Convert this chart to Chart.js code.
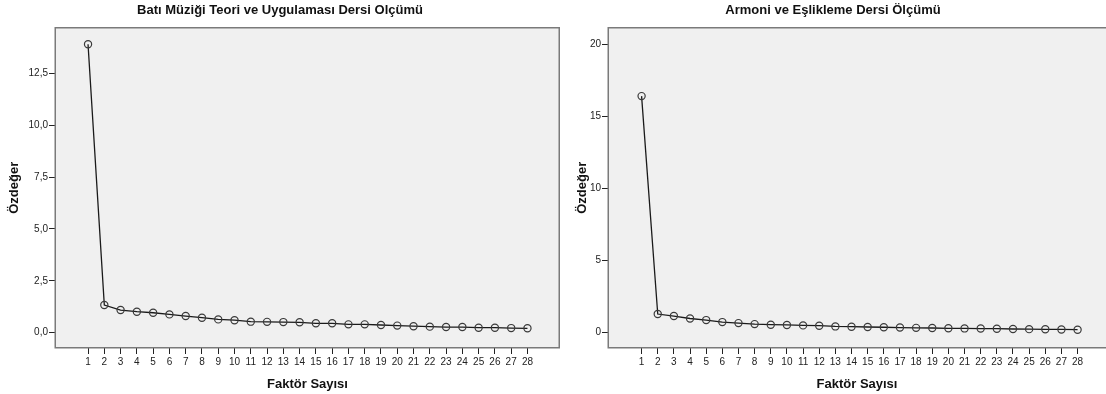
<!DOCTYPE html>
<html>
<head>
<meta charset="utf-8">
<script src="https://cdn.jsdelivr.net/npm/chart.js@4.4.1/dist/chart.umd.min.js"></script>
<style>
  html, body { margin: 0; padding: 0; background: #ffffff; overflow: hidden; width: 1106px; height: 394px; }
  #c1 { position: absolute; left: 0; top: 0; }
  #c2 { position: absolute; left: 560px; top: 0; }
</style>
</head>
<body>
<canvas id="c1" width="560" height="394"></canvas>
<canvas id="c2" width="546" height="394"></canvas>
<script>
// ---- data ----
const factors = [1,2,3,4,5,6,7,8,9,10,11,12,13,14,15,16,17,18,19,20,21,22,23,24,25,26,27,28];
const batiValues = [13.91, 1.33, 1.09, 1.01, 0.96, 0.88, 0.80, 0.72, 0.64, 0.60, 0.53, 0.52, 0.51, 0.50,
                    0.45, 0.45, 0.40, 0.40, 0.37, 0.34, 0.31, 0.29, 0.27, 0.27, 0.24, 0.24, 0.22, 0.21];
const armoniValues = [16.39, 1.25, 1.11, 0.94, 0.83, 0.69, 0.62, 0.55, 0.51, 0.49, 0.46, 0.44, 0.39, 0.37,
                      0.35, 0.33, 0.31, 0.29, 0.28, 0.26, 0.25, 0.24, 0.23, 0.21, 0.20, 0.19, 0.18, 0.16];
const batiYTicks = [0, 2.5, 5, 7.5, 10, 12.5];
const armoniYTicks = [0, 5, 10, 15, 20];
const batiTitle = 'Batı Müziği Teori ve Uygulaması Dersi Olçümü';
const armoniTitle = 'Armoni ve Eşlikleme Dersi Ölçümü';
const xTitle = 'Faktör Sayısı';
const yTitle = 'Özdeğer';

const FONT = '"Liberation Sans", Arial, sans-serif';

const framePlugin = {
  id: 'frame',
  beforeDraw(chart) {
    const {ctx, chartArea: a} = chart;
    ctx.save();
    ctx.fillStyle = '#f0f0f0';
    ctx.fillRect(a.left, a.top, a.right - a.left, a.bottom - a.top);
    ctx.restore();
  },
  afterDraw(chart, args, opts) {
    const {ctx, chartArea: a} = chart;
    ctx.save();
    ctx.strokeStyle = '#7a7a7a';
    ctx.lineWidth = 1.5;
    const l = a.left + 0.25, t = a.top + 0.25, r = a.right - 0.75, b = a.bottom - 0.25;
    ctx.beginPath();
    if (opts.openRight) {
      ctx.moveTo(r + 2, t); ctx.lineTo(l, t); ctx.lineTo(l, b); ctx.lineTo(r + 2, b);
    } else {
      ctx.moveTo(l, t); ctx.lineTo(r, t); ctx.lineTo(r, b); ctx.lineTo(l, b); ctx.closePath();
    }
    ctx.stroke();
    ctx.restore();
  }
};

function makeChart(id, values, yTicks, title, yMin, yMax, xMin, xMax, yWidth, yTitlePad, fmt, openRight) {
  const pts = factors.map((f, i) => ({x: f, y: values[i]}));
  return new Chart(document.getElementById(id), {
    type: 'line',
    data: { datasets: [{
      data: pts,
      borderColor: '#1a1a1a',
      borderWidth: 1.3,
      pointRadius: 3.6,
      pointBorderWidth: 1.2,
      pointBorderColor: '#3a3a3a',
      pointBackgroundColor: 'rgba(0,0,0,0)',
      tension: 0
    }]},
    options: {
      responsive: false,
      animation: false,
      devicePixelRatio: 1,
      layout: { padding: 0, autoPadding: false },
      plugins: {
        legend: { display: false },
        tooltip: { enabled: false },
        frame: { openRight: openRight },
        title: {
          display: true, text: title, color: '#111',
          font: { family: FONT, size: 13, weight: 'bold' },
          padding: { top: 3, bottom: 9 }
        }
      },
      scales: {
        x: {
          type: 'linear', min: xMin, max: xMax,
          afterBuildTicks: s => { s.ticks = factors.map(v => ({value: v})); },
          afterFit: s => { s.height = 46; },
          ticks: { color: '#222', font: { family: FONT, size: 10 }, padding: 2, maxRotation: 0, autoSkip: false,
                   callback: v => String(v) },
          grid: { drawOnChartArea: false, drawTicks: true, tickLength: 6, color: '#222', lineWidth: 1 },
          border: { display: false },
          title: { display: true, text: xTitle, color: '#111',
                   font: { family: FONT, size: 13, weight: 'bold' }, padding: { top: 0, bottom: 2 } }
        },
        y: {
          type: 'linear', min: yMin, max: yMax,
          afterBuildTicks: s => { s.ticks = yTicks.map(v => ({value: v})); },
          afterFit: s => { s.width = yWidth; },
          ticks: { color: '#222', font: { family: FONT, size: 10 }, padding: 1, callback: fmt },
          grid: { drawOnChartArea: false, drawTicks: true, tickLength: 6, color: '#222', lineWidth: 1 },
          border: { display: false },
          title: { display: true, text: yTitle, color: '#111',
                   font: { family: FONT, size: 13, weight: 'bold' }, padding: { top: yTitlePad, bottom: 0 } }
        }
      }
    },
    plugins: [framePlugin]
  });
}

makeChart('c1', batiValues, batiYTicks, batiTitle, -0.74, 14.71, -1.03, 30, 55, 7,
  v => v.toFixed(1).replace('.', ','), false);
makeChart('c2', armoniValues, armoniYTicks, armoniTitle, -1.11, 21.15, -1.08, 29.76, 48, 15,
  v => String(v), true);
</script>
</body>
</html>
